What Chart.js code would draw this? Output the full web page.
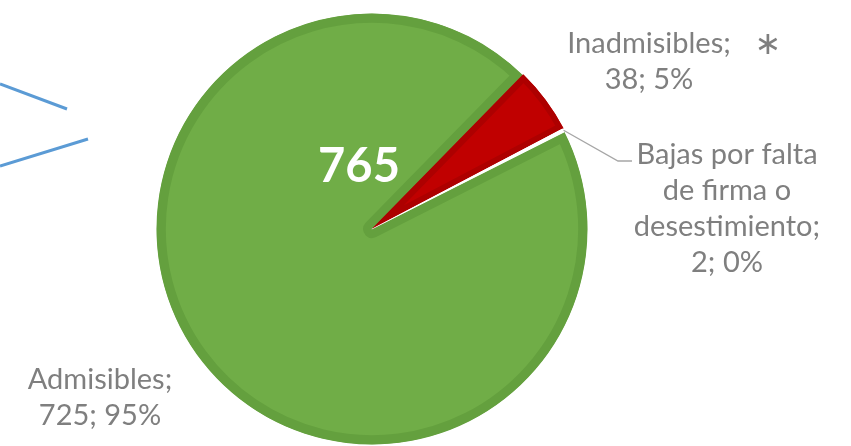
<!DOCTYPE html>
<html>
<head>
<meta charset="utf-8">
<script src="https://cdn.jsdelivr.net/npm/chart.js@4.4.1/dist/chart.umd.min.js"></script>
<style>
html,body{margin:0;padding:0;background:#fff;}
#wrap{width:851px;height:446px;position:relative;}
</style>
</head>
<body>
<div id="wrap"><canvas id="c" width="851" height="446"></canvas></div>
<script>
const categories = ["Admisibles", "Inadmisibles", "Bajas por falta de firma o desestimiento"];
const values = [725, 38, 2];
const labelLines = [["Admisibles;"], ["Inadmisibles;"], ["Bajas por falta", "de firma o", "desestimiento;"]];
const fillColors = ["#70ad47", "#c00000", "#ffffff"];
const borderColors = ["#64a03e", "#ad0000", "#ffffff"];

const total = values.reduce((a, b) => a + b, 0);
const pct = v => Math.round(v / total * 100) + "%";

const overlay = {
  id: "overlay",
  afterDatasetsDraw(chart) {
    const ctx = chart.ctx;
    const meta = chart.getDatasetMeta(0);
    ctx.save();
    // decorative blue callout lines at left
    ctx.strokeStyle = "#5b9bd5";
    ctx.lineWidth = 3;
    ctx.beginPath();
    ctx.moveTo(0, 84); ctx.lineTo(67, 109);
    ctx.moveTo(0, 166); ctx.lineTo(88, 139);
    ctx.stroke();

    // total in centre
    ctx.fillStyle = "#ffffff";
    ctx.font = "bold 47px Lato";
    ctx.textAlign = "center";
    ctx.textBaseline = "middle";
    ctx.fillText(String(total), 359, 167);

    // data labels
    ctx.fillStyle = "#7f7f7f";
    ctx.font = "29px Lato";
    const lh = 36;
    const pos = [[100, 380], [649, 44], [727, 155]];
    values.forEach((v, i) => {
      const lines = labelLines[i].concat([v + "; " + pct(v)]);
      lines.forEach((t, k) => ctx.fillText(t, pos[i][0], pos[i][1] + k * lh));
    });
    // asterisk
    ctx.font = "32px DejaVu Sans";
    ctx.fillText("\u2217", 768, 46);

    // leader line for the small slice
    const arc = meta.data[2];
    const mid = (arc.startAngle + arc.endAngle) / 2;
    const sx = arc.x + Math.cos(mid) * arc.outerRadius;
    const sy = arc.y + Math.sin(mid) * arc.outerRadius;
    ctx.strokeStyle = "#a6a6a6";
    ctx.lineWidth = 1.3;
    ctx.beginPath();
    ctx.moveTo(sx, sy);
    ctx.lineTo(618, 161);
    ctx.lineTo(632, 161);
    ctx.stroke();
    ctx.restore();
  }
};

new Chart(document.getElementById("c"), {
  type: "pie",
  data: {
    labels: categories,
    datasets: [{
      data: values,
      backgroundColor: fillColors,
      borderColor: borderColors,
      borderWidth: [9, 6, 1],
      borderAlign: "inner",
      offset: [0, 3, 0]
    }]
  },
  options: {
    responsive: false,
    animation: false,
    rotation: 63.2,
    layout: { padding: { left: 0, right: 107, top: 12, bottom: 0 } },
    plugins: { legend: { display: false }, tooltip: { enabled: false } }
  },
  plugins: [overlay]
});
</script>
</body>
</html>
